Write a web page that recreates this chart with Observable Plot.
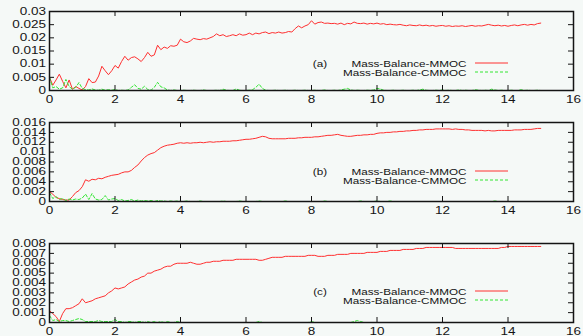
<!DOCTYPE html>
<html><head><meta charset="utf-8">
<script src="https://cdn.jsdelivr.net/npm/d3@7"></script>
<script src="https://cdn.jsdelivr.net/npm/@observablehq/plot@0.6"></script>
<style>
html,body{margin:0;padding:0;background:#f5f9f7;}
#chart{width:583px;height:336px;position:relative;overflow:hidden;}
#chart svg{display:block;}
</style></head><body><div id="chart"></div>
<script>
const time = [0,0.1,0.2,0.3,0.4,0.5,0.6,0.7,0.8,0.9,1,1.1,1.2,1.3,1.4,1.5,1.6,1.7,1.8,1.9,2,2.1,2.2,2.3,2.4,2.5,2.6,2.7,2.8,2.9,3,3.1,3.2,3.3,3.4,3.5,3.6,3.7,3.8,3.9,4,4.1,4.2,4.3,4.4,4.5,4.6,4.7,4.8,4.9,5,5.1,5.2,5.3,5.4,5.5,5.6,5.7,5.8,5.9,6,6.1,6.2,6.3,6.4,6.5,6.6,6.7,6.8,6.9,7,7.1,7.2,7.3,7.4,7.5,7.6,7.7,7.8,7.9,8,8.1,8.2,8.3,8.4,8.5,8.6,8.7,8.8,8.9,9,9.1,9.2,9.3,9.4,9.5,9.6,9.7,9.8,9.9,10,10.1,10.2,10.3,10.4,10.5,10.6,10.7,10.8,10.9,11,11.1,11.2,11.3,11.4,11.5,11.6,11.7,11.8,11.9,12,12.1,12.2,12.3,12.4,12.5,12.6,12.7,12.8,12.9,13,13.1,13.2,13.3,13.4,13.5,13.6,13.7,13.8,13.9,14,14.1,14.2,14.3,14.4,14.5,14.6,14.7,14.8,14.9,15];

const mmocA = [0.005,0.002,0.004,0.0062,0.0035,0.001,0.004,0.0005,0.0015,0.0008,
0.0002,0.0015,0.0045,0.003,0.0032,0.0055,0.0092,0.0075,0.006,0.0075,
0.0095,0.0085,0.011,0.013,0.0115,0.0125,0.0128,0.012,0.011,0.0125,
0.0145,0.013,0.0135,0.0172,0.0155,0.0165,0.016,0.017,0.0168,0.0172,
0.0195,0.0185,0.0182,0.0188,0.0198,0.0195,0.0193,0.0197,0.0195,0.02,
0.0205,0.0215,0.0208,0.0212,0.0205,0.0208,0.0212,0.0208,0.0215,0.021,
0.0212,0.0218,0.0212,0.0218,0.0215,0.022,0.0222,0.0216,0.022,0.0218,
0.0222,0.0218,0.022,0.0224,0.0222,0.0235,0.0245,0.0238,0.0245,0.025,
0.0265,0.0252,0.0258,0.026,0.0255,0.0256,0.0254,0.0255,0.0252,0.0256,
0.025,0.0255,0.0253,0.026,0.0255,0.0254,0.0256,0.0252,0.0255,0.0253,
0.0256,0.0252,0.0254,0.025,0.0252,0.025,0.0249,0.0251,0.0248,0.0246,
0.0249,0.0247,0.0246,0.0249,0.0246,0.0248,0.0245,0.0247,0.0244,0.0246,
0.0247,0.0244,0.0246,0.0243,0.0245,0.0244,0.0246,0.0243,0.0245,0.0247,
0.0244,0.0246,0.0245,0.0248,0.0251,0.0248,0.0246,0.0248,0.0245,0.0247,
0.0244,0.0247,0.0249,0.0246,0.0249,0.0251,0.0248,0.0251,0.0249,0.0254,
0.0256];
const cmmocA = [0.005,0.001,0.0015,0.0005,0.001,0.0042,0.0015,0.0005,0.0012,0.003,
0.0008,0.0003,0.0002,0.0006,0.0002,0.0001,0.0005,0.0001,0.0003,0.0001,
0.0004,0,0.0001,0,0.0002,0.0012,0.0022,0.0008,0.0005,0.0016,
0.0004,0.0001,0.0012,0.0031,0.0014,0.001,0.0002,0,0.0002,0,
0,0.0001,0,0,0.0001,0,0,0.0002,0,0,
0,0.0001,0,0.0005,0.0001,0,0,0.0006,0.0001,0,
0,0.0001,0.0003,0.0012,0.0024,0.0008,0.0001,0,0,0.0001,
0,0,0.0001,0,0,0.0001,0,0,0.0001,0,
0,0.0001,0,0,0.0002,0,0,0.0001,0,0.0002,
0.0005,0.0008,0.0002,0,0.0001,0,0,0.0001,0,0.0002,
0.0008,0.0006,0.0001,0,0,0.0001,0,0,0.0001,0,
0,0.0001,0,0.0002,0.0005,0.0001,0,0,0.0001,0,
0.0002,0,0.0001,0,0,0.0002,0,0.0001,0,0,
0.0003,0.0001,0,0.0001,0,0.0005,0.0002,0,0.0001,0,
0,0.0001,0,0,0.0003,0,0.0001,0,0,0.0001,
0];
const mmocB = [0.002,0.0015,0.0008,0.0006,0.0004,0.0003,0.0003,0.001,0.0018,0.0022,
0.003,0.0044,0.0041,0.0045,0.0044,0.0047,0.0046,0.0049,0.0051,0.0053,
0.0054,0.0055,0.0058,0.006,0.006,0.0063,0.0069,0.0074,0.0082,0.0089,
0.0094,0.0097,0.0099,0.0104,0.0109,0.0112,0.0114,0.0115,0.0116,0.0118,
0.0119,0.0118,0.0119,0.0118,0.0119,0.0119,0.012,0.0119,0.012,0.0121,
0.012,0.0121,0.0121,0.0122,0.0122,0.0122,0.0123,0.0123,0.0124,0.0125,
0.0126,0.0126,0.0127,0.0128,0.013,0.0132,0.0131,0.0128,0.0127,0.0127,
0.0127,0.0127,0.0127,0.0128,0.0128,0.0128,0.0129,0.0129,0.013,0.013,
0.013,0.0131,0.0131,0.0132,0.0133,0.0134,0.0134,0.0135,0.0136,0.0134,
0.0133,0.0132,0.0132,0.0133,0.0134,0.0134,0.0135,0.0135,0.0136,0.0136,
0.0138,0.0139,0.0139,0.014,0.014,0.0141,0.0141,0.0142,0.0142,0.0143,
0.0143,0.0144,0.0144,0.0145,0.0145,0.0146,0.0146,0.0146,0.0147,0.0147,
0.0147,0.0147,0.0147,0.0146,0.0147,0.0146,0.0146,0.0145,0.0145,0.0144,
0.0144,0.0144,0.0144,0.0143,0.0144,0.0143,0.0143,0.0144,0.0144,0.0144,
0.0144,0.0144,0.0145,0.0145,0.0145,0.0146,0.0146,0.0146,0.0147,0.0148,
0.0148];
const cmmocB = [0.0018,0.0006,0.001,0.0004,0.0006,0.0002,0.0005,0.0003,0.0005,0.0004,
0.0007,0.0015,0.0004,0.0016,0.0005,0.0003,0.0004,0.0012,0.0003,0.0005,
0.0006,0.0002,0.0004,0.0001,0.0002,0.0004,0.0001,0.0003,0.0001,0.0002,
0.0001,0.0002,0,0.0002,0.0001,0.0001,0,0.0001,0,0.0001,
0,0,0.0001,0,0,0,0.0001,0,0,0,
0,0,0,0.0001,0,0,0,0,0.0001,0,
0,0,0,0,0.0001,0,0,0,0,0,
0,0,0.0001,0,0,0,0,0,0,0,
0,0,0,0,0.0001,0,0,0,0,0,
0,0,0,0,0,0.0001,0,0,0,0,
0.0001,0,0,0,0.0001,0,0,0,0,0,
0,0,0,0,0,0,0,0,0,0,
0,0,0,0,0,0,0,0,0,0,
0,0,0,0,0,0,0.0001,0,0,0,
0,0,0,0,0,0,0,0,0,0,
0];
const mmocC = [0.0012,0.0009,0.0006,0.0001,0.0009,0.0014,0.0014,0.0015,0.0017,0.0019,
0.0024,0.002,0.0021,0.0022,0.0024,0.0025,0.0026,0.0027,0.003,0.0032,
0.0035,0.0034,0.0035,0.0036,0.0039,0.0041,0.0043,0.0044,0.0046,0.0047,
0.005,0.005,0.0052,0.0053,0.0054,0.0056,0.0057,0.0057,0.0059,0.006,
0.006,0.006,0.006,0.0061,0.006,0.0059,0.0059,0.006,0.0061,0.0061,
0.0062,0.0062,0.0062,0.0063,0.0063,0.0063,0.0063,0.0064,0.0064,0.0064,
0.0064,0.0064,0.0064,0.0064,0.0063,0.0063,0.0064,0.0065,0.0066,0.0066,
0.0066,0.0066,0.0067,0.0067,0.0067,0.0067,0.0067,0.0067,0.0067,0.0068,
0.0068,0.0068,0.0067,0.0067,0.0067,0.0068,0.0068,0.0068,0.0069,0.0069,
0.0069,0.0069,0.007,0.007,0.007,0.007,0.007,0.0071,0.0071,0.0071,
0.0071,0.0072,0.0072,0.0072,0.0073,0.0073,0.0073,0.0073,0.0074,0.0074,
0.0074,0.0074,0.0075,0.0075,0.0075,0.0076,0.0076,0.0076,0.0076,0.0076,
0.0076,0.0076,0.0076,0.0076,0.0075,0.0075,0.0075,0.0075,0.0075,0.0075,
0.0075,0.0075,0.0075,0.0075,0.0075,0.0075,0.0075,0.0075,0.0076,0.0076,
0.0077,0.0077,0.0077,0.0077,0.0077,0.0077,0.0077,0.0077,0.0077,0.0077,
0.0077];
const cmmocC = [0.0007,0.0002,0.0003,0.0001,0.0002,0.0002,0.0001,0.0002,0.0003,0.0004,
0.0003,0.0001,0.0001,0.0001,0.0001,0.0002,0.0001,0.0001,0.0001,0.0001,
0.0003,0.0001,0.0001,0,0.0001,0.0001,0,0.0001,0.0001,0,
0.0001,0,0.0001,0,0.0001,0,0.0001,0,0,0.0001,
0,0,0,0,0,0,0,0,0,0,
0,0,0,0,0,0,0,0,0,0,
0,0,0,0,0.0001,0,0,0,0,0,
0,0,0,0,0,0,0,0,0,0,
0.0001,0,0,0,0,0,0,0,0,0,
0,0,0,0.0001,0.0002,0.0001,0,0,0,0,
0,0,0,0,0,0,0,0,0,0,
0,0,0,0,0,0,0,0,0,0,
0,0,0,0,0,0,0,0,0,0,
0,0,0,0,0,0,0,0,0,0,
0,0,0,0,0,0,0,0,0,0,
0];

const xTicks = [0,2,4,6,8,10,12,14,16];
const yTicksA = [0,0.005,0.01,0.015,0.02,0.025,0.03];
const yTicksB = [0,0.002,0.004,0.006,0.008,0.01,0.012,0.014,0.016];
const yTicksC = [0,0.001,0.002,0.003,0.004,0.005,0.006,0.007,0.008];
const seriesNames = ["Mass-Balance-MMOC","Mass-Balance-CMMOC"];
const panelTags = ["(a)","(b)","(c)"];

const RED = "#ff3030", GREEN = "#33e633", INK = "#141414";
const FONT = "'Liberation Sans', Arial, Helvetica, sans-serif";

const panels = [
  {tag: panelTags[0], mmoc: mmocA, cmmoc: cmmocA, yDomain: [0, 0.03], yTicks: yTicksA, height: 110, mt: 11, mb: 20, legY: 63},
  {tag: panelTags[1], mmoc: mmocB, cmmoc: cmmocB, yDomain: [0, 0.016], yTicks: yTicksB, height: 120, mt: 12, mb: 29, legY: 61},
  {tag: panelTags[2], mmoc: mmocC, cmmoc: cmmocC, yDomain: [0, 0.008], yTicks: yTicksC, height: 106, mt: 13, mb: 14, legY: 61}
];

const W = 583, ML = 49, MR = 10, TICK = 5;
const container = document.getElementById("chart");

for (const p of panels) {
  const innerH = p.height - p.mt - p.mb;
  const innerW = W - ML - MR;
  const rowsM = time.map((t, i) => ({t, v: p.mmoc[i]}));
  const rowsC = time.map((t, i) => ({t, v: p.cmmoc[i]}));
  const svg = Plot.plot({
    width: W, height: p.height,
    marginLeft: ML, marginRight: MR, marginTop: p.mt, marginBottom: p.mb,
    style: {background: "transparent", fontFamily: FONT, fontSize: "10px", color: INK, overflow: "visible"},
    x: {domain: [0, 16]},
    y: {domain: p.yDomain},
    marks: [
      Plot.line(rowsM, {x: "t", y: "v", stroke: RED, strokeWidth: 1}),
      Plot.line(rowsC, {x: "t", y: "v", stroke: GREEN, strokeWidth: 1, strokeDasharray: "3,2"}),
      Plot.ruleX(xTicks, {x: d => d, insetTop: innerH - TICK, stroke: INK}),
      Plot.ruleX(xTicks, {x: d => d, insetBottom: innerH - TICK, stroke: INK}),
      Plot.ruleY(p.yTicks, {y: d => d, insetRight: innerW - TICK, stroke: INK}),
      Plot.ruleY(p.yTicks, {y: d => d, insetLeft: innerW - TICK, stroke: INK}),
      Plot.axisX(xTicks, {tickSize: 0, tickPadding: 5.5, label: null, tickFormat: d => String(d)}),
      Plot.axisY(p.yTicks, {tickSize: 0, tickPadding: 3.5, label: null, tickFormat: d3.format("~g")}),
      Plot.frame({stroke: INK, strokeWidth: 1.5})
    ]
  });
  const g = d3.select(svg).append("g")
    .attr("font-family", FONT).attr("font-size", 9).attr("fill", INK);
  const y1 = p.legY, y2 = p.legY + 9;
  g.append("text").attr("class", "lg").attr("x", 320).attr("y", y1 + 1).attr("dy", "0.35em").text(p.tag);
  g.append("text").attr("class", "lg").attr("x", 466.5).attr("y", y1 + 1).attr("dy", "0.35em").attr("text-anchor", "end").text(seriesNames[0]);
  g.append("text").attr("class", "lg").attr("x", 466.5).attr("y", y2 + 1).attr("dy", "0.35em").attr("text-anchor", "end").text(seriesNames[1]);
  g.append("line").attr("x1", 475).attr("x2", 508).attr("y1", y1).attr("y2", y1).attr("stroke", RED).attr("stroke-width", 1);
  g.append("line").attr("x1", 475).attr("x2", 508).attr("y1", y2).attr("y2", y2).attr("stroke", GREEN).attr("stroke-width", 1).attr("stroke-dasharray", "3,2");
  container.appendChild(svg);
  svg.querySelectorAll("text").forEach(t => {
    const f = t.classList.contains("lg") ? 1.3 : 1.35;
    const w = t.getComputedTextLength();
    if (w > 0) {
      t.setAttribute("textLength", (w * f).toFixed(2));
      t.setAttribute("lengthAdjust", "spacingAndGlyphs");
    }
  });
}
</script></body></html>
